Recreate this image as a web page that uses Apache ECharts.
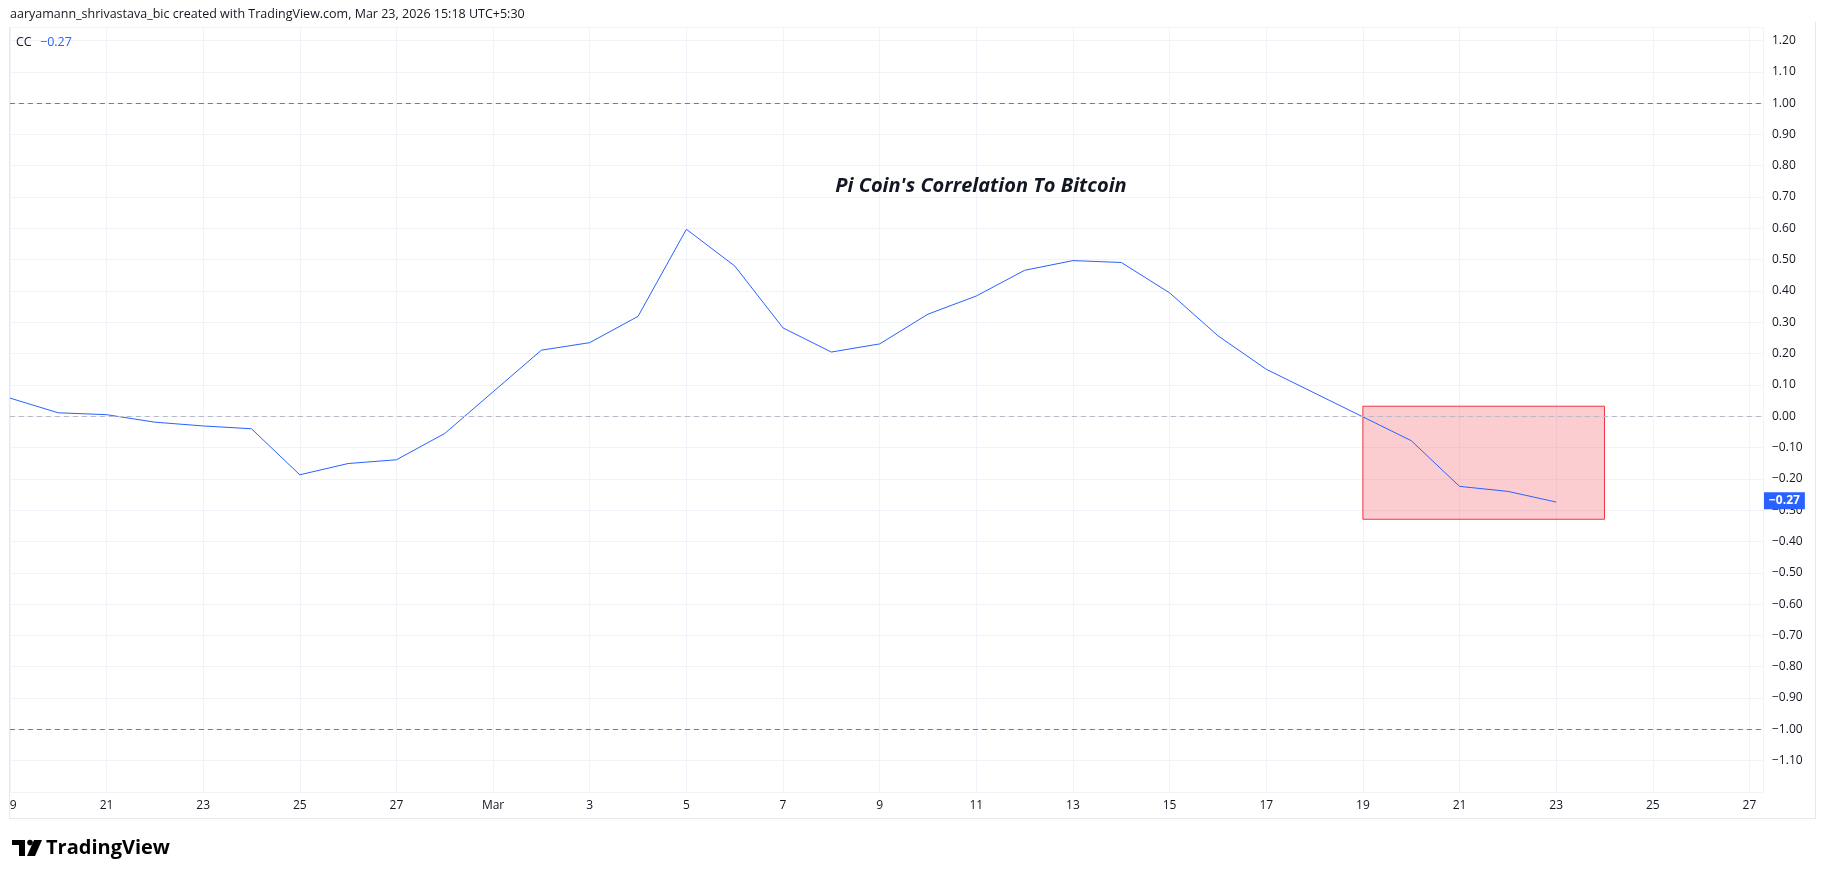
<!DOCTYPE html>
<html>
<head>
<meta charset="utf-8">
<title>Pi Coin's Correlation To Bitcoin</title>
<script src="https://cdn.jsdelivr.net/npm/echarts@6/dist/echarts.min.js"></script>
<style>
  html, body { margin: 0; padding: 0; background: #fff; }
  #chart { width: 1825px; height: 879px; }
</style>
</head>
<body>
<div id="chart"></div>
<script>
// day index counted from Feb 19, 2026 (Mar 1 = day 10)
const days = [0, 1, 2, 3, 4, 5, 6, 7, 8, 9, 10, 11, 12, 13, 14, 15, 16,
  17, 18, 19, 20, 21, 22, 23, 24, 25, 26, 27, 28, 29, 30, 31, 32, 33]
const ccValues = [0.058, 0.011, 0.005, -0.019, -0.031, -0.040, -0.187, -0.151, -0.139, -0.055,
  0.078, 0.211, 0.235, 0.319, 0.597, 0.480, 0.282, 0.205, 0.231, 0.326,
  0.384, 0.466, 0.497, 0.491, 0.394, 0.257, 0.150, 0.074, -0.002, -0.078,
  -0.224, -0.240, -0.274]
// one label every 2 days, starting at day 0
const xTickLabels = ['19', '21', '23', '25', '27', 'Mar', '3', '5', '7', '9', '11', '13',
  '15', '17', '19', '21', '23', '25', '27']
const levelLines = [1, 0, -1]
// highlighted box: [startDay, endDay], [top, bottom]
const boxDays = [28, 33]
const boxValues = [0.032, -0.329]

const FONT = '"Open Sans", "Noto Sans", sans-serif'
const TEXT = '#131722'
const BLUE = '#2962ff'

function fmt(v) {
  if (Math.abs(v) < 1e-9) return '0.00'
  return v.toFixed(2).replace('-', '\u2212')
}

const lastValue = ccValues[ccValues.length - 1]
const chart = echarts.init(document.getElementById('chart'))

chart.setOption({
  animation: false,
  backgroundColor: '#ffffff',
  grid: { left: 7, right: 62, top: 27, bottom: 87 },
  xAxis: {
    type: 'value',
    min: 0,
    max: 36.28,
    interval: 2,
    axisLine: { show: false },
    axisTick: { show: false },
    axisLabel: {
      margin: 8,
      color: TEXT,
      fontSize: 12,
      fontFamily: FONT,
      showMaxLabel: false,
      formatter: v => xTickLabels[Math.round(v / 2)] || ''
    },
    splitLine: { lineStyle: { color: '#f0f3fa', width: 1 } }
  },
  yAxis: {
    type: 'value',
    position: 'right',
    min: -1.2,
    max: 1.243,
    interval: 0.1,
    axisLine: { show: false },
    axisTick: { show: false },
    axisLabel: {
      margin: 9,
      align: 'left',
      color: TEXT,
      fontSize: 12,
      fontFamily: FONT,
      showMinLabel: false,
      showMaxLabel: false,
      formatter: v => fmt(v)
    },
    splitLine: { lineStyle: { color: '#f0f3fa', width: 1 } }
  },
  series: [{
    type: 'line',
    data: days.map((d, i) => [d, ccValues[i]]),
    symbol: 'none',
    silent: true,
    lineStyle: { color: BLUE, width: 1 },
    markLine: {
      symbol: 'none',
      silent: true,
      label: { show: false },
      data: levelLines.map(v => ({
        yAxis: v,
        lineStyle: { color: v === 0 ? '#b8bac1' : '#787b86', type: [5, 4], width: 1 }
      })).concat([{
        yAxis: lastValue,
        lineStyle: { color: 'rgba(0,0,0,0)', width: 1 },
        label: {
          show: true,
          position: 'end',
          distance: 1,
          formatter: fmt(lastValue),
          backgroundColor: BLUE,
          color: '#fff',
          fontWeight: 'bold',
          fontSize: 12,
          fontFamily: FONT,
          padding: [3, 5, 2, 5]
        }
      }])
    },
    markArea: {
      silent: true,
      itemStyle: { color: 'rgba(242,54,69,0.25)', borderColor: '#f23645', borderWidth: 1 },
      data: [[
        { xAxis: boxDays[0], yAxis: boxValues[0] },
        { xAxis: boxDays[1], yAxis: boxValues[1] }
      ]]
    }
  }],
  graphic: [
    // mask the left edge so the pane starts at x=10 like the reference
    { type: 'rect', z: 100, shape: { x: 0, y: 24, width: 9.5, height: 796 }, style: { fill: '#fff' } },
    { type: 'line', z: 101, shape: { x1: 9.5, y1: 27, x2: 9.5, y2: 818 }, style: { stroke: '#e6e8ee', lineWidth: 1 } },
    { type: 'line', z: 101, shape: { x1: 9.5, y1: 818.5, x2: 1815, y2: 818.5 }, style: { stroke: '#e6e8ee', lineWidth: 1 } },
    { type: 'line', z: 101, shape: { x1: 1815.5, y1: 22, x2: 1815.5, y2: 819 }, style: { stroke: '#e6e8ee', lineWidth: 1 } },
    {
      type: 'text', z: 101, x: 10, y: 14,
      style: {
        text: 'aaryamann_shrivastava_bic created with TradingView.com, Mar 23, 2026 15:18 UTC+5:30',
        font: '12.5px ' + FONT, fill: TEXT, verticalAlign: 'middle'
      }
    },
    { type: 'text', z: 101, x: 16, y: 42, style: { text: 'CC', font: '12.5px ' + FONT, fill: TEXT, verticalAlign: 'middle' } },
    { type: 'text', z: 101, x: 40, y: 42, style: { text: fmt(lastValue), font: '12.5px ' + FONT, fill: BLUE, verticalAlign: 'middle' } },
    {
      type: 'text', z: 101, x: 981, y: 186,
      style: {
        text: "Pi Coin's Correlation To Bitcoin",
        font: 'italic bold 20px ' + FONT, fill: TEXT, align: 'center', verticalAlign: 'middle'
      }
    },
    // TradingView logo
    { type: 'rect', z: 101, shape: { x: 12, y: 840, width: 13, height: 5 }, style: { fill: '#000' } },
    { type: 'rect', z: 101, shape: { x: 19, y: 840, width: 6, height: 16 }, style: { fill: '#000' } },
    { type: 'circle', z: 101, shape: { cx: 30, cy: 842.6, r: 2.8 }, style: { fill: '#000' } },
    { type: 'polygon', z: 101, shape: { points: [[34, 840], [42, 840], [35, 856], [27, 856]] }, style: { fill: '#000' } },
    {
      type: 'text', z: 101, x: 46, y: 848,
      style: { text: 'TradingView', font: 'bold 20px ' + FONT, fill: '#000', verticalAlign: 'middle' }
    }
  ]
})
</script>
</body>
</html>
